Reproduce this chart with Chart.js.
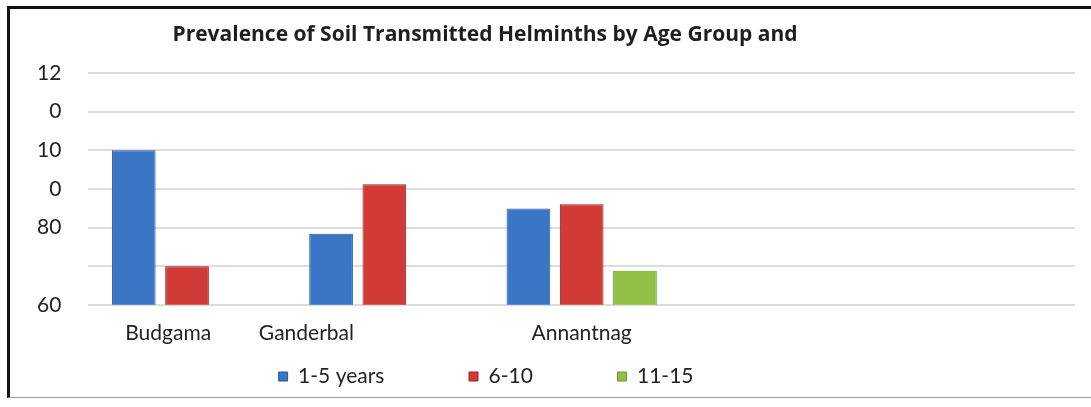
<!DOCTYPE html>
<html>
<head>
<meta charset="utf-8">
<script src="https://cdn.jsdelivr.net/npm/chart.js@4/dist/chart.umd.min.js"></script>
<style>
  html,body{margin:0;padding:0;background:#fff;}
  #frame{position:absolute;left:7px;top:6px;width:1084px;height:388px;
    border-top:3px solid #111;border-left:3px solid #111;border-bottom:1px solid #9a9a9a;}
  #chart{display:block;}
</style>
</head>
<body>
<div id="frame"><canvas id="chart" width="1081" height="388"></canvas></div>
<script>
// Data
const chartTitle = "Prevalence of Soil Transmitted Helminths by Age Group and";
const districts = ["Budgama", "Ganderbal", "Annantnag", "", ""];
const ageGroups = ["1-5 years", "6-10", "11-15"];
const age1to5  = [100, 78.4, 84.9, null, null];
const age6to10 = [70, 91.2, 86, null, null];
const age11to15 = [null, null, 68.8, null, null];
const yTickLabels = {120:"12", 110:"0", 100:"10", 90:"0", 80:"80", 70:"", 60:"60"};

// nudges (trailing spaces) so labels sit where the original put them
const labelPad = [7, 29, 0, 0, 0];
const legendPad = [15, 15, 21];

const colors = ["#3a76c6", "#d13a36", "#93bf45"];
const borders = ["#27599a", "#962422", "#6c9430"];

function barFill(i){
  return function(c){
    const el = c.element;
    if(!el || !el.width) return colors[i];
    const g = c.chart.ctx.createLinearGradient(el.x - el.width/2, 0, el.x + el.width/2, 0);
    g.addColorStop(0, borders[i]);
    g.addColorStop(0.15, colors[i]);
    g.addColorStop(0.8, colors[i]);
    g.addColorStop(1, borders[i]);
    return g;
  };
}

const titlePlugin = {
  id: "offsetTitle",
  afterDraw(chart){
    const {ctx, chartArea} = chart;
    ctx.save();
    ctx.font = "bold 21px 'Open Sans'";
    ctx.fillStyle = "#1e1e1e";
    ctx.textAlign = "center";
    ctx.textBaseline = "middle";
    ctx.fillText(chartTitle, chartArea.left + chartArea.width*0.402, 26);
    ctx.restore();
  }
};

const series = [age1to5, age6to10, age11to15];

new Chart(document.getElementById("chart"), {
  type: "bar",
  data: {
    labels: districts,
    datasets: series.map((d, i) => ({
      label: ageGroups[i],
      data: d,
      backgroundColor: barFill(i),
      borderColor: borders[i],
      borderWidth: 1,
      categoryPercentage: 0.81,
      barPercentage: 0.82
    }))
  },
  options: {
    responsive: false,
    animation: false,
    layout: { padding: { top: 64, right: 16, left: 0, bottom: 0 } },
    plugins: {
      title: { display: false },
      tooltip: { enabled: false },
      legend: {
        position: "bottom",
        labels: {
          color: "#222",
          font: { family: "Lato", size: 21 },
          boxWidth: 9,
          boxHeight: 9,
          padding: 4,
          generateLabels(chart){
            const items = Chart.defaults.plugins.legend.labels.generateLabels(chart);
            items.forEach((it, i) => {
              it.text = it.text + " ".repeat(legendPad[i]);
              it.fillStyle = colors[i];
            });
            return items;
          }
        }
      }
    },
    scales: {
      x: {
        grid: { display: false, drawTicks: false },
        border: { display: false },
        ticks: {
          color: "#222",
          font: { family: "Lato", size: 21 },
          padding: 16,
          maxRotation: 0,
          autoSkip: false,
          callback: (v, i) => districts[i] + " ".repeat(labelPad[i])
        }
      },
      y: {
        min: 60,
        max: 120,
        grid: { color: "#dcdcdc", lineWidth: 2, drawTicks: false },
        border: { display: false },
        ticks: {
          stepSize: 10,
          color: "#222",
          font: { family: "Lato", size: 21 },
          padding: 27,
          callback: v => yTickLabels[v]
        }
      }
    }
  },
  plugins: [titlePlugin]
});
</script>
</body>
</html>
